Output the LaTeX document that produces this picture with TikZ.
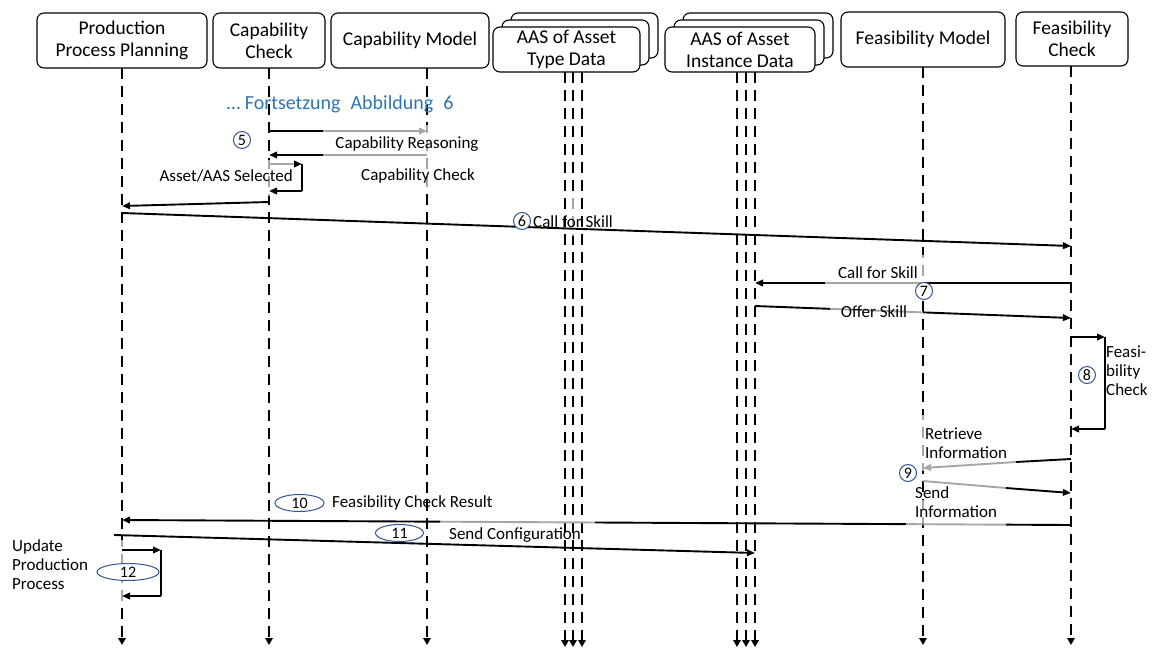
\documentclass[tikz,border=0pt]{standalone}
\usepackage{fontspec}
\setmainfont{Carlito}
\usetikzlibrary{arrows.meta,calc,shapes.geometric}
\definecolor{msggray}{RGB}{166,166,166}
\definecolor{numblue}{RGB}{47,85,151}
\definecolor{titleblue}{RGB}{46,117,182}
\begin{document}
\begin{tikzpicture}[x=1pt,y=-1pt,
  hdr/.style={draw, rounded corners=7pt, line width=1.1pt, fill=white, align=center, inner sep=0pt, font=\fontsize{19.5}{22}\selectfont},
  lifeline/.style={line width=2.7pt, dash pattern=on 11pt off 7pt, -{Triangle[length=7pt,width=7.5pt]}},
  msg/.style={line width=1.9pt},
  tip/.style={-{Triangle[length=8pt,width=6.5pt]}},
  gtip/.style={-{Triangle[length=8pt,width=6.5pt,color=msggray]}},
  btip/.style={-{Triangle[length=8pt,width=6.5pt,color=black]}},
  lbl/.style={font=\fontsize{17}{19}\selectfont, inner sep=0pt, align=left},
  num/.style={circle, draw=numblue, fill=white, line width=1pt, minimum size=17pt, inner sep=0pt, font=\fontsize{16}{16}\selectfont},
  numell/.style={ellipse, draw=numblue, fill=white, line width=1pt, minimum height=17pt, inner sep=0pt, font=\fontsize{16}{16}\selectfont},
]
\useasboundingbox (0,0) rectangle (1159,648);

% ---------- header boxes ----------
\node[hdr, minimum width=170pt, minimum height=55pt] (ppp) at (122,40.5) {Production\\Process Planning};
\node[hdr, minimum width=112pt, minimum height=55pt] (cc) at (269,40.5) {Capability\\Check};
\node[hdr, minimum width=158pt, minimum height=55pt] (cm) at (410,40.5) {Capability Model};
% stacked AAS type
\node[hdr, minimum width=147pt, minimum height=45pt] (tdC) at (584.5,35.5) {};
\node[hdr, minimum width=147pt, minimum height=45pt] (tdB) at (575.5,42.5) {};
\node[hdr, minimum width=147pt, minimum height=45pt] (td) at (566.5,49.5) {AAS of Asset\\Type Data};
% stacked AAS instance
\node[hdr, minimum width=150pt, minimum height=45pt] (idC) at (758,35.5) {};
\node[hdr, minimum width=150pt, minimum height=45pt] (idB) at (749,42.5) {};
\node[hdr, minimum width=150pt, minimum height=45pt] (id) at (740,49.5) {AAS of Asset\\Instance Data};
\node[hdr, minimum width=164pt, minimum height=55pt] (fm) at (923,39.5) {Feasibility Model};
\node[hdr, minimum width=112pt, minimum height=54pt] (fc) at (1072,39) {Feasibility\\Check};

% ---------- lifeline coordinates ----------
\coordinate (pp-top) at (122,68);   \coordinate (pp-end) at (122,645);
\coordinate (cc-top) at (269,68);   \coordinate (cc-end) at (269,645);
\coordinate (cm-top) at (427,68);   \coordinate (cm-end) at (427,645);
\coordinate (t1-top) at (565,72);   \coordinate (t1-end) at (565,647);
\coordinate (t2-top) at (573,72);   \coordinate (t2-end) at (573,647);
\coordinate (t3-top) at (582,72);   \coordinate (t3-end) at (582,647);
\coordinate (i1-top) at (737,72);   \coordinate (i1-end) at (737,647);
\coordinate (i2-top) at (746,72);   \coordinate (i2-end) at (746,647);
\coordinate (i3-top) at (755,72);   \coordinate (i3-end) at (755,647);
\coordinate (fm-top) at (923,67);   \coordinate (fm-end) at (923,645);
\coordinate (fc-top) at (1071,66);  \coordinate (fc-end) at (1071,645);

\foreach \l in {pp,cc,cm,t1,t2,t3,i1,i2,i3,fm,fc}
  \draw[lifeline] (\l-top) -- (\l-end);

% gray parts of lifelines
\begin{scope}\clip (420,125) rectangle (434,190); \draw[lifeline,draw=msggray] (cm-top) -- (cm-end); \end{scope}
\begin{scope}\clip (262,160) rectangle (276,195); \draw[lifeline,draw=msggray] (cc-top) -- (cc-end); \end{scope}
\begin{scope}\clip (566,195) rectangle (580,235); \draw[lifeline,draw=msggray] (t2-top) -- (t2-end); \end{scope}
\begin{scope}\clip (916,255) rectangle (930,282); \draw[lifeline,draw=msggray] (fm-top) -- (fm-end); \end{scope}
\begin{scope}\clip (916,415) rectangle (930,470); \draw[lifeline,draw=msggray] (fm-top) -- (fm-end); \end{scope}
\begin{scope}\clip (916,500) rectangle (930,522); \draw[lifeline,draw=msggray] (fm-top) -- (fm-end); \end{scope}
\begin{scope}\clip (115,540) rectangle (129,600); \draw[lifeline,draw=msggray] (pp-top) -- (pp-end); \end{scope}

% ---------- title ----------
\node[font=\fontsize{20}{24}\selectfont, text=titleblue, inner sep=0pt] (cont) at (340,104) {… Fortsetzung\enspace Abbildung\enspace 6};

% ---------- step 5 ----------
\coordinate (cc5a) at (269,131); \coordinate (m5a) at (323,131); \coordinate (cm5a) at (427,131);
\draw[msg] (cc5a) -- (m5a);
\draw[msg, msggray, gtip] (m5a) -- (cm5a);
\coordinate (cm5b) at (427,155); \coordinate (m5b) at (323,155); \coordinate (cc5b) at (269,155);
\draw[msg, msggray] (cm5b) -- (m5b);
\draw[msg, tip] (m5b) -- (cc5b);
\node[num] (n5) at (242,140) {5};
\node[lbl] (l5a) at (407,144) {Capability Reasoning};
% self loop capability check
\coordinate (ccl1) at (269,164); \coordinate (ccl2) at (302,164); \coordinate (ccl3) at (302,191); \coordinate (ccl4) at (269,191);
\draw[msg, msggray, btip] (ccl1) -- (ccl2);
\draw[msg] (ccl2) -- (ccl3);
\draw[msg, tip] (ccl3) -- (ccl4);
\node[lbl, anchor=east] (l5b) at (293,176) {Asset/AAS Selected};
\node[lbl] (l5c) at (418,176) {Capability Check};
\coordinate (cc5r) at (269,202); \coordinate (pp5r) at (122,206);
\draw[msg, tip] (cc5r) -- (pp5r);

% ---------- step 6 ----------
\coordinate (pp6) at (122,213); \coordinate (fc6) at (1071,246);
\draw[msg, tip] (pp6) -- (fc6);
\node[num] (n6) at (522,221) {6};
\node[lbl, anchor=west] (l6) at (533,222) {Call for Skill};

% ---------- step 7 ----------
\coordinate (fc7) at (1071,283); \coordinate (m7a) at (923,283); \coordinate (m7b) at (825,283); \coordinate (i7) at (755,283);
\draw[msg] (fc7) -- (m7a);
\draw[msg, msggray] (m7a) -- (m7b);
\draw[msg, tip] (m7b) -- (i7);
\node[lbl, anchor=east] (l7) at (918,273) {Call for Skill};
\node[num] (n7) at (924,291) {7};
\coordinate (i7o) at (755,306); \coordinate (fc7o) at (1071,318);
\coordinate (o1) at ($(i7o)!0.237!(fc7o)$); \coordinate (o2) at ($(i7o)!0.532!(fc7o)$);
\draw[msg] (i7o) -- (o1);
\draw[msg, msggray] (o1) -- (o2);
\draw[msg, tip] (o2) -- (fc7o);
\node[lbl] (l7o) at (874,312) {Offer Skill};

% ---------- step 8 ----------
\coordinate (fcl1) at (1071,337); \coordinate (fcl2) at (1105,337); \coordinate (fcl3) at (1105,429); \coordinate (fcl4) at (1071,429);
\draw[msg, tip] (fcl1) -- (fcl2);
\draw[msg] (fcl2) -- (fcl3);
\draw[msg, tip] (fcl3) -- (fcl4);
\node[num] (n8) at (1087,375) {8};
\node[lbl, anchor=north west] (l8) at (1106,346) {Feasi-\\bility\\Check};

% ---------- step 9 ----------
\coordinate (fc9a) at (1071,459); \coordinate (m9a) at (1016,462); \coordinate (fm9a) at (923,468);
\draw[msg] (fc9a) -- (m9a);
\draw[msg, msggray, gtip] (m9a) -- (fm9a);
\node[lbl, anchor=north west] (l9a) at (925,428) {Retrieve\\Information};
\node[num] (n9) at (908,473) {9};
\coordinate (fm9b) at (923,481); \coordinate (m9b) at (1006,488); \coordinate (fc9b) at (1071,493);
\draw[msg, msggray] (fm9b) -- (m9b);
\draw[msg, tip] (m9b) -- (fc9b);
\node[lbl, anchor=north west] (l9b) at (915,486) {Send\\Information};

% ---------- step 10 ----------
\coordinate (fc10) at (1071,525); \coordinate (pp10) at (122,520);
\coordinate (p1) at ($(fc10)!0.0685!(pp10)$);
\coordinate (p2) at ($(fc10)!0.1739!(pp10)$);
\coordinate (p3) at ($(fc10)!0.5016!(pp10)$);
\coordinate (p4) at ($(fc10)!0.6649!(pp10)$);
\draw[msg] (fc10) -- (p1);
\draw[msg, msggray] (p1) -- (p2);
\draw[msg] (p2) -- (p3);
\draw[msg, msggray] (p3) -- (p4);
\draw[msg, tip] (p4) -- (pp10);
\node[numell, minimum width=49pt] (n10) at (299.5,503) {10};
\node[lbl, anchor=west] (l10) at (332,503) {Feasibility Check Result};

% ---------- step 11 ----------
\coordinate (pp11) at (114,535); \coordinate (i11) at (755,553);
\draw[msg, tip] (pp11) -- (i11);
\node[numell, minimum width=48pt] (n11) at (399.5,533) {11};
\node[lbl, anchor=west] (l11) at (449,535) {Send Configuration};

% ---------- step 12 ----------
\coordinate (ppl1) at (122,550); \coordinate (ppl2) at (161,550); \coordinate (ppl3) at (161,596); \coordinate (ppl4) at (122,596);
\draw[msg, tip] (ppl1) -- (ppl2);
\draw[msg] (ppl2) -- (ppl3);
\draw[msg, tip] (ppl3) -- (ppl4);
\node[numell, minimum width=62pt] (n12) at (128,572) {12};
\node[lbl, anchor=north west] (l12) at (12,539) {Update\\Production\\Process};
\end{tikzpicture}
\end{document}
